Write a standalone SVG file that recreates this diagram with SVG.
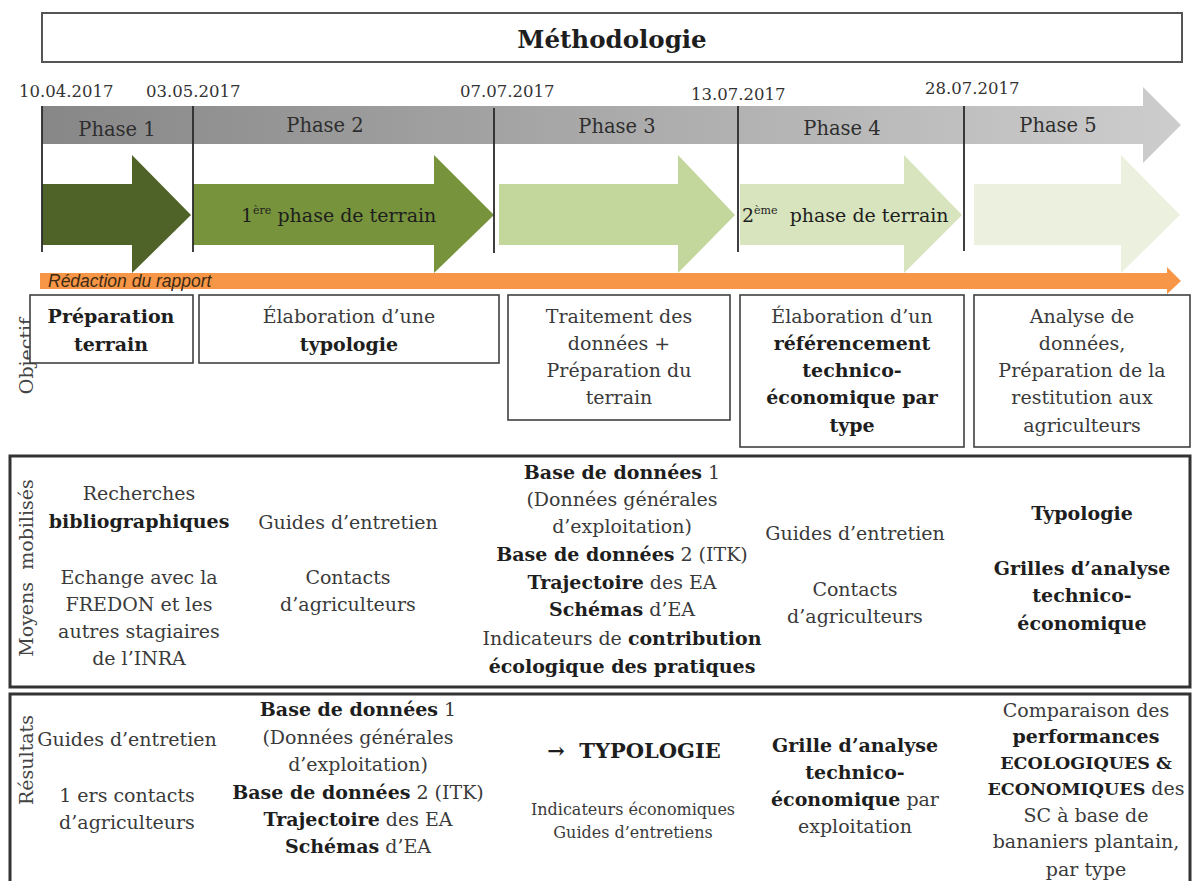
<svg xmlns="http://www.w3.org/2000/svg" width="1193" height="881" viewBox="0 0 1193 881">
<style>
text{font-family:"DejaVu Serif","Liberation Serif",serif;fill:#3a3a3a;font-size:19px}
.c{text-anchor:middle}
.b{font-weight:bold;fill:#1e1e1e}
.caps{font-size:17.5px}
.date{font-size:16.5px;fill:#333}
.ph{font-size:19.5px;fill:#2e2e2e}
.box{fill:#fff;stroke:#404040;stroke-width:1.6}
.big{fill:none;stroke:#333;stroke-width:3}
.vl{stroke:#2a2a2a;stroke-width:1.8}
.lab{fill:#444}
</style>
<defs>
<linearGradient id="gband" x1="0" y1="0" x2="1" y2="0">
<stop offset="0" stop-color="#878787"/>
<stop offset="1" stop-color="#cdcdcd"/>
</linearGradient>
</defs>
<rect width="1193" height="881" fill="#fff"/>

<g id="title">
<rect x="42" y="13" width="1140" height="49" fill="#fff" stroke="#555" stroke-width="2"/>
<text x="612" y="48" class="c b" style="font-size:24.5px">Méthodologie</text>
</g>

<g id="dates">
<text x="19" y="97" class="date">10.04.2017</text>
<text x="146" y="97" class="date">03.05.2017</text>
<text x="460" y="97" class="date">07.07.2017</text>
<text x="691" y="100" class="date">13.07.2017</text>
<text x="925" y="94" class="date">28.07.2017</text>
</g>

<g id="phase-band">
<path d="M42,106 H1143 V87 L1181,125 L1143,163 V144 H42 Z" fill="url(#gband)"/>
<text x="117" y="136" class="c ph">Phase 1</text>
<text x="325" y="132" class="c ph">Phase 2</text>
<text x="617" y="133" class="c ph">Phase 3</text>
<text x="842" y="135" class="c ph">Phase 4</text>
<text x="1058" y="132" class="c ph">Phase 5</text>
</g>

<g id="arrow-phase1">
<path d="M42,184 H132 V155 L191,215 L132,273 V245 H42 Z" fill="#4f6228"/>
</g>
<g id="arrow-phase2">
<path d="M193,184 H434 V155 L494,215 L434,273 V245 H193 Z" fill="#77933c"/>
<text x="241" y="222" style="fill:#1e1e1e">1<tspan dy="-8" style="font-size:11px">ère</tspan><tspan dy="8"> phase de terrain</tspan></text>
</g>
<g id="arrow-phase3">
<path d="M499,184 H678 V155 L735,215 L678,273 V245 H499 Z" fill="#c3d69b"/>
</g>
<g id="arrow-phase4">
<path d="M740,184 H904 V155 L962,215 L904,273 V245 H740 Z" fill="#d7e4bd"/>
<text x="742" y="222" style="fill:#1e1e1e" xml:space="preserve">2<tspan dy="-8" style="font-size:11px">ème</tspan><tspan dy="8">  phase de terrain</tspan></text>
</g>
<g id="arrow-phase5">
<path d="M974,184 H1121 V155 L1180,215 L1121,273 V245 H974 Z" fill="#ebf1de"/>
</g>

<g id="connectors">
<line x1="42" y1="106" x2="42" y2="252" class="vl"/>
<line x1="193" y1="106" x2="193" y2="252" class="vl"/>
<line x1="494" y1="108" x2="494" y2="253" class="vl"/>
<line x1="738" y1="106" x2="738" y2="252" class="vl"/>
<line x1="964" y1="106" x2="964" y2="251" class="vl"/>
</g>

<g id="redaction">
<path d="M40,273 H1167 V267 L1181,281 L1167,294 V289 H40 Z" fill="#f79646"/>
<text x="48" y="287" style="font-family:'Liberation Sans',Arial,sans-serif;font-style:italic;font-size:17.5px;fill:#3d2b14">Rédaction du rapport</text>
</g>

<g id="label-objectif">
<text transform="translate(33,356) rotate(-90)" class="c lab">Objectif</text>
</g>

<g id="obj-1">
<rect x="30" y="295" width="163" height="68" class="box"/>
<text x="111" y="323" class="c b">Préparation</text>
<text x="111" y="351" class="c b">terrain</text>
</g>
<g id="obj-2">
<rect x="199" y="295" width="300" height="68" class="box"/>
<text x="349" y="323" class="c">Élaboration d’une</text>
<text x="349" y="351" class="c b">typologie</text>
</g>
<g id="obj-3">
<rect x="508" y="295" width="222" height="125" class="box"/>
<text x="619" y="323" class="c">Traitement des</text>
<text x="619" y="350" class="c">données +</text>
<text x="619" y="377" class="c">Préparation du</text>
<text x="619" y="404" class="c">terrain</text>
</g>
<g id="obj-4">
<rect x="740" y="295" width="224" height="152" class="box"/>
<text x="852" y="323" class="c">Élaboration d’un</text>
<text x="852" y="350" class="c b">référencement</text>
<text x="852" y="377" class="c b">technico-</text>
<text x="852" y="404" class="c b">économique par</text>
<text x="852" y="432" class="c b">type</text>
</g>
<g id="obj-5">
<rect x="974" y="295" width="216" height="152" class="box"/>
<text x="1082" y="323" class="c">Analyse de</text>
<text x="1082" y="350" class="c">données,</text>
<text x="1082" y="377" class="c">Préparation de la</text>
<text x="1082" y="404" class="c">restitution aux</text>
<text x="1082" y="432" class="c">agriculteurs</text>
</g>

<g id="moyens">
<rect x="10" y="456" width="1180" height="231" class="big"/>
<text transform="translate(33,568) rotate(-90)" class="c lab" xml:space="preserve">Moyens  mobilisés</text>
<g id="moyens-1">
<text x="139" y="500" class="c">Recherches</text>
<text x="139" y="528" class="c b">bibliographiques</text>
<text x="139" y="584" class="c">Echange avec la</text>
<text x="139" y="611" class="c">FREDON et les</text>
<text x="139" y="638" class="c">autres stagiaires</text>
<text x="139" y="665" class="c">de l’INRA</text>
</g>
<g id="moyens-2">
<text x="348" y="529" class="c">Guides d’entretien</text>
<text x="348" y="584" class="c">Contacts</text>
<text x="348" y="611" class="c">d’agriculteurs</text>
</g>
<g id="moyens-3">
<text x="622" y="479" class="c"><tspan class="b">Base de données</tspan> 1</text>
<text x="622" y="506" class="c">(Données générales</text>
<text x="622" y="533" class="c">d’exploitation)</text>
<text x="622" y="561" class="c"><tspan class="b">Base de données</tspan> 2 (ITK)</text>
<text x="622" y="589" class="c"><tspan class="b">Trajectoire</tspan> des EA</text>
<text x="622" y="616" class="c"><tspan class="b">Schémas</tspan> d’EA</text>
<text x="622" y="645" class="c">Indicateurs de <tspan class="b">contribution</tspan></text>
<text x="622" y="673" class="c b">écologique des pratiques</text>
</g>
<g id="moyens-4">
<text x="855" y="540" class="c">Guides d’entretien</text>
<text x="855" y="596" class="c">Contacts</text>
<text x="855" y="623" class="c">d’agriculteurs</text>
</g>
<g id="moyens-5">
<text x="1082" y="520" class="c b">Typologie</text>
<text x="1082" y="575" class="c b">Grilles d’analyse</text>
<text x="1082" y="602" class="c b">technico-</text>
<text x="1082" y="630" class="c b">économique</text>
</g>
</g>

<g id="resultats">
<rect x="10" y="694" width="1180" height="200" class="big"/>
<text transform="translate(33,760) rotate(-90)" class="c lab">Résultats</text>
<g id="res-1">
<text x="127" y="746" class="c">Guides d’entretien</text>
<text x="127" y="802" class="c">1 ers contacts</text>
<text x="127" y="829" class="c">d’agriculteurs</text>
</g>
<g id="res-2">
<text x="358" y="716" class="c"><tspan class="b">Base de données</tspan> 1</text>
<text x="358" y="744" class="c">(Données générales</text>
<text x="358" y="771" class="c">d’exploitation)</text>
<text x="358" y="799" class="c"><tspan class="b">Base de données</tspan> 2 (ITK)</text>
<text x="358" y="826" class="c"><tspan class="b">Trajectoire</tspan> des EA</text>
<text x="358" y="853" class="c"><tspan class="b">Schémas</tspan> d’EA</text>
</g>
<g id="res-3">
<text x="634" y="758" class="c b" style="font-size:21px" xml:space="preserve">→  TYPOLOGIE</text>
<text x="633" y="815" class="c" style="font-size:16px">Indicateurs économiques</text>
<text x="633" y="838" class="c" style="font-size:16px">Guides d’entretiens</text>
</g>
<g id="res-4">
<text x="855" y="752" class="c b">Grille d’analyse</text>
<text x="855" y="779" class="c b">technico-</text>
<text x="855" y="806" class="c"><tspan class="b">économique</tspan> par</text>
<text x="855" y="833" class="c">exploitation</text>
</g>
<g id="res-5">
<text x="1086" y="717" class="c">Comparaison des</text>
<text x="1086" y="743" class="c b">performances</text>
<text x="1086" y="769" class="c b caps">ECOLOGIQUES &amp;</text>
<text x="1086" y="795" class="c"><tspan class="b caps">ECONOMIQUES</tspan> des</text>
<text x="1086" y="822" class="c">SC à base de</text>
<text x="1086" y="848" class="c">bananiers plantain,</text>
<text x="1086" y="876" class="c">par type</text>
</g>
</g>
</svg>
